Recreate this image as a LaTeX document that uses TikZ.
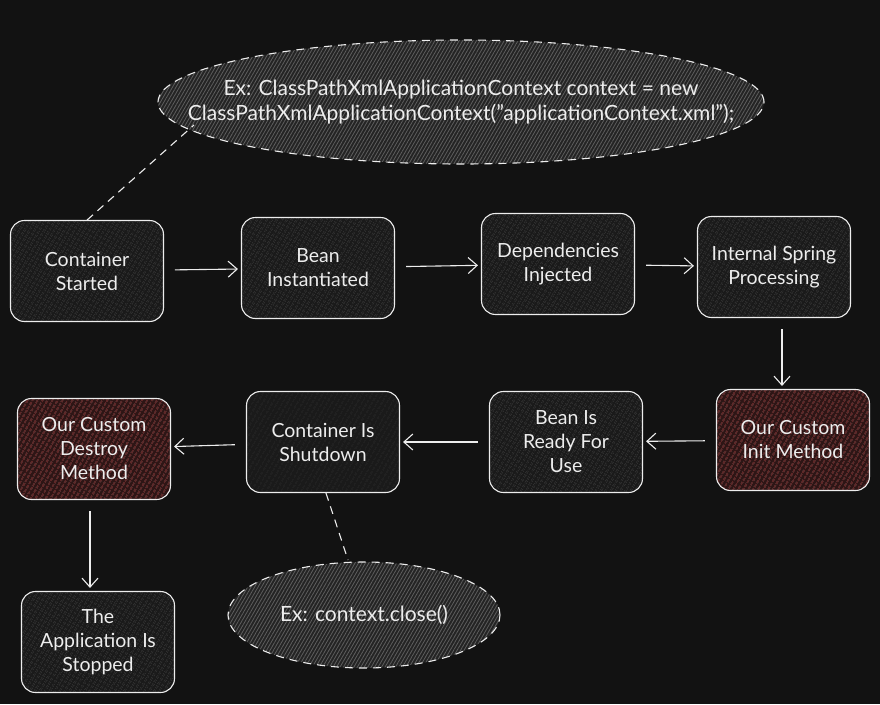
\documentclass[tikz,border=0pt]{standalone}
\usepackage{fontspec}
\setmainfont{Lato}
\usetikzlibrary{shapes.geometric, patterns.meta, arrows.meta}

\definecolor{bg}{HTML}{121212}
\definecolor{boxfill}{HTML}{1A1A1A}
\definecolor{boxhatch}{HTML}{2C2C2C}
\definecolor{redfill}{HTML}{2E1515}
\definecolor{redhatch}{HTML}{BC4848}
\definecolor{notefill}{HTML}{242424}
\definecolor{notehatch}{HTML}{5E5E5E}
\definecolor{ink}{HTML}{EDEDED}

\tikzset{
    stage/.style={draw=ink, line width=1.1pt, rounded corners=14pt,
        minimum width=153pt, minimum height=101pt, align=center,
        text=ink, font=\fontsize{19.5}{24}\selectfont,
        preaction={fill=boxfill},
        pattern={Lines[angle=60, distance=4pt, line width=0.8pt]},
        pattern color=boxhatch},
    custom/.style={stage, preaction={fill=redfill}, pattern color=redhatch},
    note/.style={ellipse, draw=ink, line width=1.1pt, dash pattern=on 8pt off 6pt,
        inner sep=0pt, align=center, text=ink, font=\fontsize{21}{25}\selectfont,
        preaction={fill=notefill},
        pattern={Lines[angle=60, distance=3pt, line width=0.8pt]},
        pattern color=notehatch},
    flow/.style={draw=ink, line width=1.1pt, shorten <=11pt, shorten >=3pt,
        -{Straight Barb[length=9pt, width=16pt]}},
    link/.style={draw=ink, line width=1.1pt, dash pattern=on 8pt off 6pt}
}

\begin{document}
\begin{tikzpicture}[x=1pt, y=-1pt]
    \useasboundingbox[fill=bg] (0,0) rectangle (880,704);

    \node[note, inner xsep=-80pt, minimum width=606pt, minimum height=124pt] (ctxnote) at (461,102)
        {Ex: ClassPathXmlApplicationContext context = new\\ClassPathXmlApplicationContext("applicationContext.xml");};
    \node[note, minimum width=272pt, minimum height=106pt] (closenote) at (364,615) {Ex: context.close()};

    \node[stage] (started) at (87,271) {Container\\Started};
    \node[stage] (instantiated) at (318,268) {Bean\\Instantiated};
    \node[stage] (injected) at (558,264) {Dependencies\\Injected};
    \node[stage] (processing) at (774,267) {Internal Spring\\Processing};
    \node[custom] (init) at (793,440) {Our Custom\\Init Method};
    \node[stage] (ready) at (566,442) {Bean Is\\Ready For\\Use};
    \node[stage] (shutdown) at (323,442) {Container Is\\Shutdown};
    \node[custom] (destroy) at (94,449) {Our Custom\\Destroy\\Method};
    \node[stage] (stopped) at (98,642) {The\\Application Is\\Stopped};

    \coordinate (ctxtip) at (194,125);
    \coordinate (closetip) at (348,560);

    \draw[flow] (started) -- (instantiated);
    \draw[flow] (instantiated) -- (injected);
    \draw[flow] (injected) -- (processing);
    \draw[flow] ([xshift=8pt]processing.south) -- ([xshift=-11pt]init.north);
    \draw[flow] (init) -- (ready);
    \draw[flow] (ready) -- (shutdown);
    \draw[flow] (shutdown) -- (destroy);
    \draw[flow] ([xshift=-4pt]destroy.south) -- ([xshift=-8pt]stopped.north);

    \draw[link] (started.north) -- (ctxtip);
    \draw[link] ([xshift=3pt]shutdown.south) -- (closetip);
\end{tikzpicture}
\end{document}
